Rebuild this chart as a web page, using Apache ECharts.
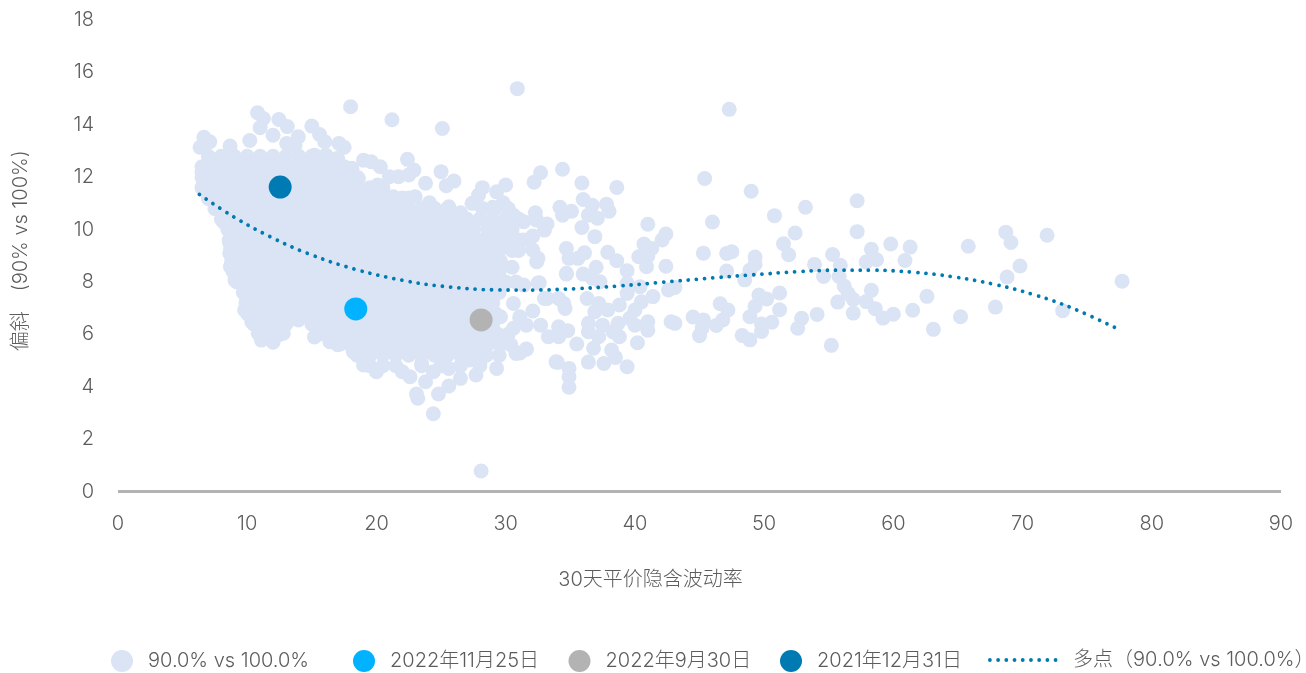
<!DOCTYPE html>
<html><head><meta charset="utf-8">
<style>html,body{margin:0;padding:0;background:#fff}#c{width:1306px;height:673px}</style>
<script src="https://cdn.jsdelivr.net/npm/echarts@6/dist/echarts.min.js"></script>
</head><body><div id="c"></div>
<script>
// Dense body of the cloud, read row by row: [skew, [implied vol values]]
const coreRows = [
[12.8,[7,8,9,10,11,12,13,14,15,16]],
[12.4,[6.5,7.5,8.5,9.5,10.5,11.5,12.5,13.5,14.5,15.5,16.5,17.5]],
[12.0,[6.5,7,8,9,10,11,12,13,14,15,16,17,18,18.5]],
[11.6,[6.5,7.5,8.5,9.5,10.5,11.5,12.5,13.5,14.5,15.5,16.5,17.5,18.5,19.5,20.5]],
[11.2,[7,8,9,10,11,12,13,14,15,16,17,18,19,20,21,22,22.5]],
[10.8,[7.5,8.5,9.5,10.5,11.5,12.5,13.5,14.5,15.5,16.5,17.5,18.5,19.5,20.5,21.5,22.5,23.5,24.5,25.5,28.2,29.2,30.2]],
[10.4,[8,9,10,11,12,13,14,15,16,17,18,19,20,21,22,23,24,25,26,27,28,29,30,31]],
[10.0,[8.5,9.5,10.5,11.5,12.5,13.5,14.5,15.5,16.5,17.5,18.5,19.5,20.5,21.5,22.5,23.5,24.5,25.5,26.5,27.5,28.6,29.5,30.5]],
[9.6,[8.6,9,10,11,12,13,14,15,16,17,18,19,20,21,22,23,24,25,26,27,28,29,30,31,31.4]],
[9.2,[8.7,9.5,10.5,11.5,12.5,13.5,14.5,15.5,16.5,17.5,18.5,19.5,20.5,21.5,22.5,23.5,24.5,25.5,26.5,27.5,28.5,29.5,30.5,31]],
[8.8,[8.8,9,10,11,12,13,14,15,16,17,18,19,20,21,22,23,24,25,26,27,28,29,29.6]],
[8.4,[8.9,9.5,10.5,11.5,12.5,13.5,14.5,15.5,16.5,17.5,18.5,19.5,20.5,21.5,22.5,23.5,24.5,25.5,26.5,27.5,28.5,29.5]],
[8.0,[9.2,10,11,12,13,14,15,16,17,18,19,20,21,22,23,24,25,26,27,28,29,30,30.8]],
[7.6,[9.7,10.5,11.5,12.5,13.5,14.5,15.5,16.5,17.5,18.5,19.5,20.5,21.5,22.5,23.5,24.5,25.5,26.5,27.5,28.5,29.5]],
[7.2,[9.9,11,12,13,14,15,16,17,18,19,20,21,22,23,24,25,26,27,28,29]],
[6.8,[10,10.5,11.5,12.5,13.5,14.5,15.5,16.5,17.5,18.5,19.5,20.5,21.5,22.5,23.5,24.5,25.5,26.5,27.5,28.5,29.2]],
[6.4,[10.5,11,12,13,15,16,17,18,19,20,21,22,23,24,25,26,27,28,29]],
[6.0,[11,11.5,12.5,15.5,16.5,17.5,18.5,19.5,20.5,21.5,22.5,23.5,24.5,25.5,26.5,27.5,28.5,29.4,30.2]],
[5.6,[17,18,19,20,21,22,23,24,25,26,27,28,28.6,29.6,30.4]],
[5.2,[18.5,19.5,20.5,21.5,22.5,23.5,24.5,25.5,26.5,27.5,28.5,29.5]],
[4.8,[19.5,20.5,21.5,23.5,25,26.5,28]]
];
// Upper and left rim of the cloud
const rimUpper = [[6.65,13.52],[6.35,13.14],[7.1,13.35],[6.5,12.2],[6.55,11.57],[7,11.19],[8.15,10.3],[8.65,9.47],[8.65,9.09],[8.75,8.64],[8.67,13.19],[10.2,13.4],[10.8,14.46],[11.25,14.24],[11,13.89],[12.45,14.2],[13.1,13.93],[12,13.6],[13.95,13.54],[13.7,13.22],[13.05,13.29],[15,13.95],[15.6,13.63],[16,13.35],[17.1,13.29],[17.5,13.14],[18,14.69],[15.2,12.84],[16.1,12.84],[17,12.72],[18.1,12.34],[18.6,11.95],[19,12.65],[19.6,12.59],[20.3,12.4],[21.2,14.19],[25.1,13.86],[30.9,15.38],[22.4,12.68],[22.9,12.27],[22.5,12.08],[21.7,12.02],[21,12.02],[20.1,11.7],[23.8,11.77],[25,12.21],[26,11.85],[25.4,11.67],[28.2,11.6],[30,11.7],[29.3,11.44],[27.9,11.32],[27.4,11],[29.8,11.02],[29,10.85],[30.6,10.55],[31.4,10.3],[32.1,9.75],[23,11.25],[21.3,11.25],[24.1,11.02],[25.6,10.87],[26.5,10.64],[32.1,9.22],[32.5,8.9]];
// Lower rim of the cloud
const rimLower = [[8.7,8.58],[9.05,8.07],[9.8,7.56],[9.8,6.93],[10.35,6.48],[10.85,6.04],[11.1,5.78],[12,5.7],[12.8,6.04],[12.8,6.35],[13.95,6.55],[15.2,6.48],[15.2,5.9],[16.4,5.72],[17.2,5.63],[18.2,5.34],[19,4.83],[20,4.57],[30.5,8.56],[32.4,8.77],[34.7,8.33],[31.4,7.88],[32.6,7.97],[33.2,7.37],[34.5,7.18],[32.1,6.89],[30.6,7.18],[29.6,6.67],[31.1,6.61],[30.6,6.23],[33.9,4.95],[31.6,5.43],[30.8,5.27],[29.3,4.7],[27.7,4.45],[26.5,4.32],[25.6,4.03],[24.8,3.72],[23.2,3.56],[23.1,3.72],[24.4,2.97],[28.1,0.78],[22.6,4.38],[22,4.57],[23.8,4.19],[28,4.89],[27.2,5.02],[25.6,4.7],[24.4,4.57],[23.5,4.89]];
// Scattered points between about 31 and 45
const midPoints = [[34.4,12.3],[32.7,12.17],[32.2,11.81],[35.9,11.78],[38.6,11.61],[36,11.15],[34.2,10.85],[34.4,10.55],[35.1,10.7],[36.7,10.93],[37.8,10.97],[38,10.7],[37.1,10.43],[36.4,10.55],[35.9,10.08],[32.3,10.64],[33.2,10.21],[33,9.98],[32.4,10.36],[41,10.2],[42.4,9.83],[42.1,9.6],[36.9,9.73],[40.7,9.45],[41.3,9.28],[40.3,8.96],[41,8.99],[40.9,8.58],[42.4,8.6],[37.9,9.13],[38.6,8.81],[39.4,8.43],[34.7,9.28],[34.9,8.9],[36.1,9.11],[35.6,8.9],[37,8.56],[34.7,8.3],[36,8.3],[37.3,8.01],[36.7,8.14],[39.4,7.95],[40.4,7.82],[41.4,7.44],[42.6,7.69],[43.1,7.79],[39.4,7.56],[36.3,7.37],[37.2,7.18],[33,7.37],[34.1,7.37],[34.6,6.99],[36.9,6.86],[37.9,6.93],[38.8,7.12],[40,6.93],[40.5,7.24],[39.6,6.61],[41,6.48],[41,6.16],[40,6.35],[38.7,6.42],[37.5,6.35],[36.4,6.42],[36.4,6.1],[37.2,5.91],[38.8,5.91],[38.3,6.1],[40.2,5.68],[42.8,6.48],[43.1,6.42],[35.5,5.63],[36.8,5.47],[38.2,5.4],[38.5,5.12],[37.6,4.89],[36.4,4.94],[39.4,4.76],[34,4.93],[34.9,4.7],[34.9,4.38],[34.9,3.98],[34.1,6.29],[34.8,6.14],[34.1,5.91],[33.3,5.91],[32.7,6.35],[31.6,6.35],[31.1,6.67],[31.6,5.44],[31.1,5.29],[32.5,7.96]];
// Scattered points above about 44
const highVolPoints = [[47.3,14.59],[45.4,11.95],[49,11.46],[53.2,10.85],[50.8,10.53],[46,10.29],[57.2,11.1],[57.2,9.92],[52.4,9.87],[68.7,9.9],[69.1,9.51],[71.9,9.78],[65.8,9.36],[51.5,9.46],[51.9,9.04],[45.3,9.1],[47.1,9.09],[47.5,9.15],[49.3,8.95],[49.3,8.68],[48.9,8.45],[47.1,8.42],[48.5,8.08],[53.9,8.67],[54.6,8.21],[55.3,9.05],[55.9,8.64],[55.8,8.21],[56.2,7.84],[56.5,7.56],[56.9,7.33],[58.3,9.25],[59.8,9.45],[61.3,9.33],[57.9,8.76],[58.7,8.85],[60.9,8.82],[69.8,8.61],[68.8,8.19],[77.7,8.03],[58.3,7.68],[62.6,7.45],[57.9,7.25],[55.7,7.23],[51.2,7.58],[49.6,7.5],[50.2,7.35],[49.3,7.07],[46.6,7.17],[47.2,6.93],[51.2,6.94],[48.9,6.67],[58.6,6.98],[60,6.77],[59.2,6.62],[61.5,6.92],[56.9,6.81],[54.1,6.76],[52.9,6.61],[52.6,6.23],[65.2,6.67],[67.9,7.04],[73.1,6.9],[63.1,6.19],[55.2,5.58],[44.5,6.66],[45.3,6.55],[46.8,6.55],[46.3,6.34],[45.2,6.24],[45,5.95],[49.8,6.39],[50.6,6.46],[49.8,6.11],[48.3,5.96],[48.9,5.79]];
const nov2022 = [[18.4,6.97]];
const sep2022 = [[28.1,6.55]];
const dec2021 = [[12.55,11.62]];
const trendLine = [[6.3,11.34],[8.97,10.48],[11.76,9.73],[14.67,9.09],[18.3,8.49],[22.05,8.06],[25.2,7.83],[29.04,7.7],[31.6,7.69],[35.4,7.74],[38.6,7.84],[41.7,7.97],[46.2,8.16],[48.8,8.26],[52.6,8.39],[55.7,8.45],[58.3,8.45],[61.5,8.37],[64.6,8.2],[67.8,7.91],[70.9,7.51],[73.9,6.99],[77.6,6.15]];
const names = ['90.0% vs 100.0%','2022年11月25日','2022年9月30日','2021年12月31日','多点（90.0% vs 100.0%）'];
const xTitle = '30天平价隐含波动率';
const yTitle = '偏斜　(90% vs 100%)';

const coreRowPoints = coreRows.flatMap(([y, xs]) => xs.map(x => [x, y]));
const cloud = coreRowPoints.concat(rimUpper, rimLower, midPoints, highVolPoints);
const FONT = 'Inter, "Noto Sans CJK SC", sans-serif';
const TXT = '#5c5c5c';
const W = 300;
const FS = 20;
const legendText = {color: TXT, fontSize: FS, fontWeight:W, fontFamily: FONT, padding:[0,0,0,10]};
const circleLegend = (name, left) => ({data:[{name, icon:'circle'}], left, top:645, itemWidth:22, itemHeight:22, textStyle:legendText, selectedMode:false});
const scatter = (name, data, color, size, z) => ({type:'scatter', name, data, symbolSize:size, z, itemStyle:{color, opacity:1}, silent:true, progressive:0, large:false});
const dotted = {color:'#007ab3', width:3.8, type:[0.01,8.2], cap:'round'};

const chart = echarts.init(document.getElementById('c'), null, {renderer:'canvas'});
chart.setOption({
  animation:false,
  backgroundColor:'#fff',
  grid:{left:118, right:25, top:20, bottom:181.5, containLabel:false, outerBoundsMode:'none'},
  xAxis:{type:'value', min:0, max:90, interval:10,
    name:xTitle, nameLocation:'middle', nameGap:78,
    nameTextStyle:{color:TXT, fontSize:FS, fontWeight:W, fontFamily:FONT, padding:[0,98,0,0]},
    axisLine:{show:true, onZero:true, lineStyle:{color:'#b3b3b3', width:3, cap:'butt'}},
    axisTick:{show:false}, splitLine:{show:false},
    axisLabel:{color:TXT, fontSize:FS, fontWeight:W, fontFamily:FONT, margin:22}},
  yAxis:{type:'value', min:0, max:18, interval:2,
    name:yTitle, nameLocation:'middle', nameGap:87, nameRotate:90,
    nameTextStyle:{color:TXT, fontSize:FS, fontWeight:W, fontFamily:FONT, padding:[0,0,0,10]},
    axisLine:{show:false}, axisTick:{show:false}, splitLine:{show:false},
    axisLabel:{color:TXT, fontSize:FS, fontWeight:W, fontFamily:FONT, margin:24, padding:[4,0,0,0]}},
  legend:[
    circleLegend(names[0], 106),
    circleLegend(names[1], 348),
    circleLegend(names[2], 563.5),
    circleLegend(names[3], 775),
    {data:[{name:names[4], itemStyle:{opacity:0}, lineStyle:dotted}], left:983, top:645, itemWidth:70, itemHeight:22, textStyle:{...legendText, padding:[0,0,0,8]}, selectedMode:false}
  ],
  series:[
    scatter(names[0], cloud, '#dbe4f4', 15, 2),
    scatter(names[1], nov2022, '#00b2ff', 23, 3),
    scatter(names[2], sep2022, '#b3b3b3', 23, 3),
    scatter(names[3], dec2021, '#007ab3', 23, 3),
    {type:'line', name:names[4], data:trendLine, smooth:0.4, showSymbol:false, symbol:'none', z:4, silent:true,
     lineStyle:dotted, itemStyle:{color:'#007ab3'}}
  ]
});
</script></body></html>
